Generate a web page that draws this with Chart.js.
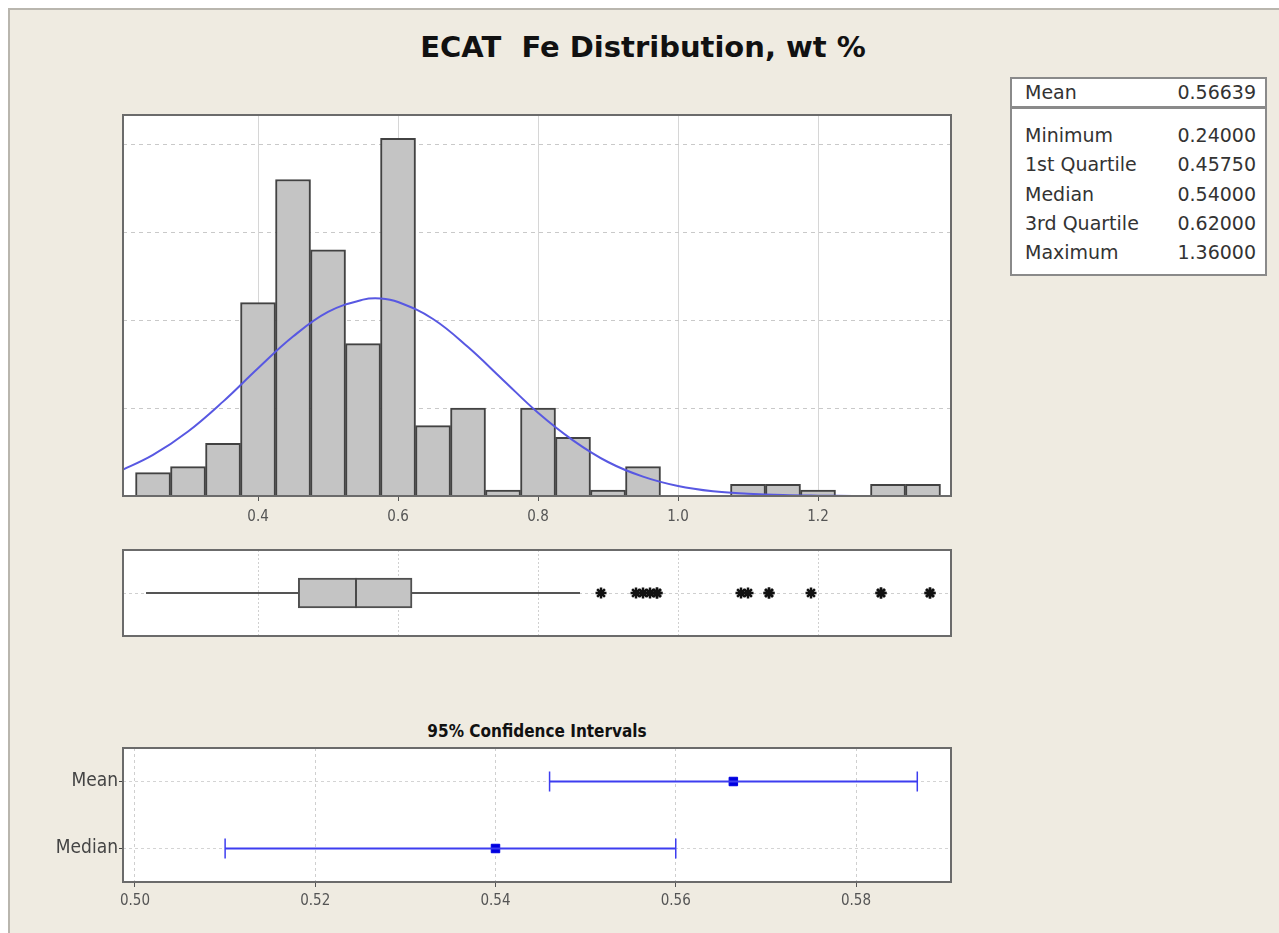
<!DOCTYPE html>
<html>
<head>
<meta charset="utf-8">
<title>ECAT Fe Distribution</title>
<script src="https://cdn.jsdelivr.net/npm/chart.js@4.4.1/dist/chart.umd.min.js"></script>
<style>
  html, body { margin: 0; padding: 0; background: #ffffff; }
  body { width: 1279px; height: 933px; position: relative; overflow: hidden; font-family: "DejaVu Sans", sans-serif; }
  #page { position: absolute; left: 8px; top: 8px; width: 1271px; height: 925px; background: #efebe1;
          border-left: 2px solid #b9b6ae; border-top: 2px solid #b9b6ae; box-sizing: border-box; }
  #title { position: absolute; left: 343px; top: 33px; width: 600px; text-align: center;
           font: bold 29px/29px "DejaVu Sans", sans-serif; color: #111; white-space: nowrap; }
  #ciTitle { position: absolute; left: 337px; top: 721px; width: 400px; text-align: center;
             font: bold 17px/20px "DejaVu Sans Condensed", "DejaVu Sans", sans-serif; color: #111; white-space: nowrap; }
  canvas { position: absolute; }
  #stats { position: absolute; left: 1010px; top: 77px; width: 257px; height: 199px; background: #fff;
           border: 2px solid #8a8a8a; box-sizing: border-box; font: 19px "DejaVu Sans", sans-serif; color: #333; }
  #stats .row { display: flex; justify-content: space-between; padding: 0 9px 0 13px; height: 29.3px; line-height: 29.3px; }
  #stats .head { height: 27px; line-height: 27px; border-bottom: 3px solid #8a8a8a; }
  #stats .body { padding-top: 12px; }
</style>
</head>
<body>
<div id="page"></div>
<div id="title">ECAT&nbsp; Fe Distribution, wt %</div>
<canvas id="hist" width="880" height="440" style="left:100px; top:100px;"></canvas>
<canvas id="box" width="880" height="120" style="left:100px; top:540px;"></canvas>
<div id="ciTitle">95% Confidence Intervals</div>
<canvas id="ci" width="994" height="203" style="left:40px; top:730px;"></canvas>
<div id="stats"></div>

<script>
// ---- data ----
// histogram bins (bin centres, width 0.05) and counts
const binCenters = [0.25, 0.30, 0.35, 0.40, 0.45, 0.50, 0.55, 0.60, 0.65, 0.70, 0.75, 0.80,
                    0.85, 0.90, 0.95, 1.00, 1.05, 1.10, 1.15, 1.20, 1.25, 1.30, 1.35];
const binCounts  = [4, 5, 9, 33, 54, 42, 26, 61, 12, 15, 1, 15,
                    10, 1, 5, 0, 0, 2, 2, 1, 0, 2, 2];
const histTicks  = [0.4, 0.6, 0.8, 1.0, 1.2];
const countGrid  = [15, 30, 45, 60];

// fitted normal curve, sampled points (x, expected count)
const fitX = [0.20, 0.25, 0.30, 0.35, 0.40, 0.45, 0.50, 0.55, 0.575, 0.60, 0.65, 0.70, 0.75, 0.80,
              0.85, 0.90, 0.95, 1.00, 1.05, 1.10, 1.15, 1.20, 1.25, 1.30, 1.35, 1.40];
const fitY = [4.1, 7.0, 11.0, 16.1, 21.8, 27.2, 31.4, 33.5, 33.7, 33.1, 30.2, 25.4, 19.8, 14.2,
              9.5, 5.8, 3.3, 1.7, 0.8, 0.4, 0.16, 0.06, 0.02, 0.01, 0, 0];

// box plot
const boxMin = 0.24, boxQ1 = 0.4575, boxMedian = 0.54, boxQ3 = 0.62, whiskerHigh = 0.86;
const outliers = [0.89, 0.94, 0.95, 0.96, 0.97, 0.97, 1.09, 1.10, 1.13, 1.13, 1.19, 1.29, 1.29, 1.36, 1.36];

// 95% confidence intervals
const ciNames = ['Mean', 'Median'];
const ciLow   = [0.5460, 0.5100];
const ciEst   = [0.56639, 0.5400];
const ciHigh  = [0.5868, 0.5600];
const ciTicks = [0.50, 0.52, 0.54, 0.56, 0.58];

// summary table
const statLabels = ['Mean', 'Minimum', '1st Quartile', 'Median', '3rd Quartile', 'Maximum'];
const statValues = ['0.56639', '0.24000', '0.45750', '0.54000', '0.62000', '1.36000'];

// ---- summary table ----
(function () {
  const box = document.getElementById('stats');
  const row = (l, v) => '<div class="row"><span>' + l + '</span><span>' + v + '</span></div>';
  let html = '<div class="row head"><span>' + statLabels[0] + '</span><span>' + statValues[0] + '</span></div><div class="body">';
  for (let i = 1; i < statLabels.length; i++) html += row(statLabels[i], statValues[i]);
  box.innerHTML = html + '</div>';
})();

// ---- shared styling ----
const FONT = '"DejaVu Sans Condensed", "DejaVu Sans", sans-serif';
const plotFrame = {
  id: 'plotFrame',
  beforeDraw(chart) {
    const { ctx, chartArea: a } = chart;
    ctx.save();
    ctx.fillStyle = '#ffffff';
    ctx.fillRect(a.left, a.top, a.width, a.height);
    ctx.restore();
  },
  afterDraw(chart) {
    const { ctx, chartArea: a } = chart;
    ctx.save();
    ctx.strokeStyle = '#6b6b6b';
    ctx.lineWidth = 2;
    ctx.strokeRect(a.left, a.top, a.width, a.height);
    ctx.restore();
  }
};
const baseOpts = {
  responsive: false,
  animation: false,
  events: [],
  plugins: { legend: { display: false }, tooltip: { enabled: false } }
};
const histMin = 0.2071, histMax = 1.39;

// ---- histogram with fitted curve ----
new Chart(document.getElementById('hist'), {
  type: 'bar',
  data: {
    datasets: [
      {
        type: 'line',
        data: fitX.map((x, i) => ({ x: x, y: fitY[i] })),
        borderColor: '#5858e2',
        borderWidth: 2,
        pointRadius: 0,
        tension: 0.4,
        order: 0
      },
      {
        type: 'bar',
        data: binCenters.map((x, i) => ({ x: x, y: binCounts[i] })),
        backgroundColor: '#c4c4c4',
        borderColor: '#424242',
        borderWidth: 2,
        barPercentage: 1,
        categoryPercentage: 1,
        order: 1
      }
    ]
  },
  options: Object.assign({}, baseOpts, {
    layout: { padding: { left: 23, right: 29, top: 15, bottom: 4 } },
    scales: {
      x: {
        type: 'linear', min: histMin, max: histMax, offset: false,
        afterBuildTicks: s => { s.ticks = histTicks.map(v => ({ value: v })); },
        afterFit: s => { s.height = 40; },
        ticks: { callback: v => v.toFixed(1), font: { family: FONT, size: 15 }, color: '#555', padding: 7, maxRotation: 0 },
        grid: { color: '#d6d6d6', lineWidth: 1, tickLength: 5, tickColor: '#555', offset: false },
        border: { display: false }
      },
      y: {
        type: 'linear', min: 0, max: 65,
        afterBuildTicks: s => { s.ticks = countGrid.map(v => ({ value: v })); },
        afterFit: s => { s.width = 0; },
        ticks: { display: false },
        grid: { color: '#c9c9c9', drawTicks: false },
        border: { display: false, dash: [4, 4] }
      }
    }
  }),
  plugins: [plotFrame]
});

// ---- box plot ----
new Chart(document.getElementById('box'), {
  type: 'bar',
  data: {
    datasets: [
      { type: 'line', data: [{ x: boxMin, y: 0 }, { x: boxQ1, y: 0 }], borderColor: '#555', borderWidth: 2, pointRadius: 0, order: 2 },
      { type: 'line', data: [{ x: boxQ3, y: 0 }, { x: whiskerHigh, y: 0 }], borderColor: '#555', borderWidth: 2, pointRadius: 0, order: 2 },
      {
        type: 'bar', indexAxis: 'y',
        data: [{ x: [boxQ1, boxQ3], y: 0 }],
        backgroundColor: '#c4c4c4', borderColor: '#505050', borderWidth: 2, borderSkipped: false,
        barThickness: 30, order: 1
      },
      { type: 'line', data: [{ x: boxMedian, y: -0.35 }, { x: boxMedian, y: 0.35 }], borderColor: '#4a4a4a', borderWidth: 2, pointRadius: 0, order: 0 },
      {
        type: 'scatter',
        data: outliers.map(x => ({ x: x, y: 0 })),
        pointStyle: 'star', pointRadius: 5.5, borderColor: '#111', backgroundColor: '#111', borderWidth: 2.5, order: 0
      }
    ]
  },
  options: Object.assign({}, baseOpts, {
    layout: { padding: { left: 23, right: 29, top: 10, bottom: 24 } },
    scales: {
      x: {
        type: 'linear', min: histMin, max: histMax, offset: false,
        afterBuildTicks: s => { s.ticks = histTicks.map(v => ({ value: v })); },
        afterFit: s => { s.height = 0; },
        ticks: { display: false },
        grid: { color: '#d0d0d0', drawTicks: false, offset: false },
        border: { display: false, dash: [2, 2] }
      },
      y: {
        type: 'linear', min: -1, max: 1, offset: false,
        afterBuildTicks: s => { s.ticks = [{ value: 0 }]; },
        afterFit: s => { s.width = 0; },
        ticks: { display: false },
        grid: { color: '#cfcfcf', drawTicks: false, offset: false },
        border: { display: false, dash: [3, 3] }
      }
    }
  }),
  plugins: [plotFrame]
});

// ---- confidence intervals ----
const ciBlue = '#3d3df0';
const ciSets = ciNames.map((n, i) => ({
  type: 'line',
  data: [{ x: ciLow[i], y: n }, { x: ciHigh[i], y: n }],
  borderColor: ciBlue, borderWidth: 2,
  pointStyle: 'line', pointRotation: 90, pointRadius: 10,
  pointBorderColor: ciBlue, pointBorderWidth: 1.5
}));
ciSets.push({
  type: 'scatter',
  data: ciNames.map((n, i) => ({ x: ciEst[i], y: n })),
  pointStyle: 'rect', pointRadius: 6,
  backgroundColor: '#0000e0', borderColor: '#0000e0', borderWidth: 1
});

new Chart(document.getElementById('ci'), {
  type: 'line',
  data: { datasets: ciSets },
  options: Object.assign({}, baseOpts, {
    layout: { padding: { left: 10, right: 83, top: 18, bottom: 11 } },
    scales: {
      x: {
        type: 'linear', min: 0.49867, max: 0.59054,
        afterBuildTicks: s => { s.ticks = ciTicks.map(v => ({ value: v })); },
        afterFit: s => { s.height = 40; },
        ticks: { callback: v => v.toFixed(2), font: { family: FONT, size: 15 }, color: '#555', padding: 5, maxRotation: 0 },
        grid: { color: '#cfcfcf', tickLength: 5, tickColor: '#555' },
        border: { display: false, dash: [3, 3] }
      },
      y: {
        type: 'category', labels: ciNames, offset: true,
        afterFit: s => { s.width = 73; },
        ticks: { font: { family: FONT, size: 19 }, color: '#444', padding: 1 },
        grid: { color: '#d4d4d4', tickLength: 4, tickColor: '#444', offset: false },
        border: { display: false, dash: [3, 3] }
      }
    }
  }),
  plugins: [plotFrame]
});
</script>
</body>
</html>
